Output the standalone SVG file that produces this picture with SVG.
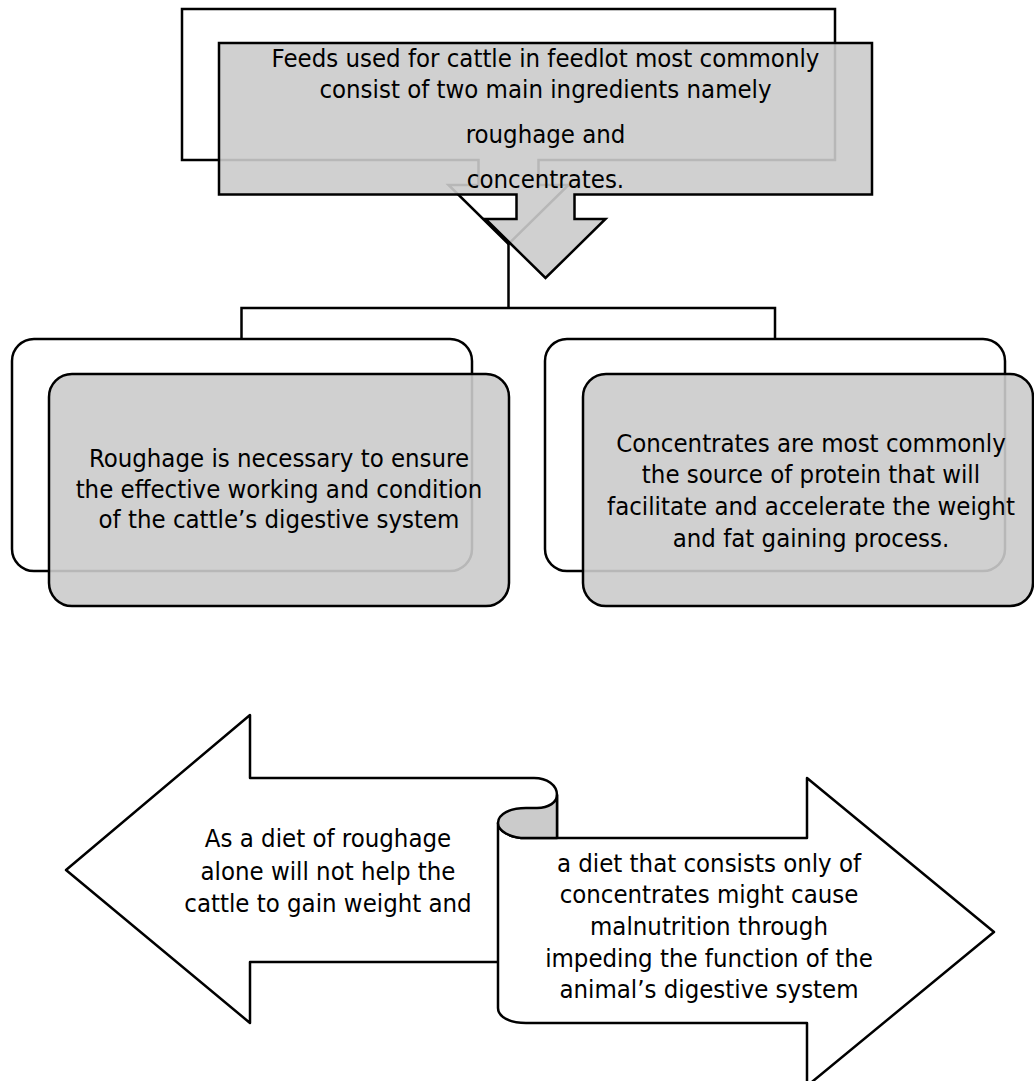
<svg xmlns="http://www.w3.org/2000/svg" width="1034" height="1081" viewBox="0 0 1034 1081">
  <style>
    .back { fill: #ffffff; stroke: #000000; stroke-width: 2.5; stroke-linejoin: miter; }
    .front { fill: #cbcbcb; fill-opacity: 0.9; stroke: #000000; stroke-width: 2.5; }
    .plain { fill: #ffffff; stroke: #000000; stroke-width: 2.5; stroke-linejoin: round; }
    .curl { fill: #cbcbcb; stroke: #000000; stroke-width: 2.5; stroke-linejoin: round; }
    .conn { fill: none; stroke: #000000; stroke-width: 2.5; }
    text { font-family: "DejaVu Sans Condensed", "DejaVu Sans", sans-serif; font-stretch: condensed; font-size: 25.5px; fill: #000000; text-anchor: middle; }
  </style>
  <rect width="1034" height="1081" fill="#ffffff"/>

  <!-- top statement: stacked down-arrow callouts -->
  <g id="node-feeds">
    <path class="back" d="M182,9 H835 V160 H538.5 V185 H568.5 L508.5,244 L448.5,185 H478.5 V160 H182 Z"/>
    <path class="front" d="M219,43 H872 V194.5 H574.5 V219 H605.5 L545.5,278 L485.5,219 H516.5 V194.5 H219 Z"/>
    <text x="545.5" y="67">Feeds used for cattle in feedlot most commonly</text>
    <text x="545.5" y="98">consist of two main ingredients namely</text>
    <text x="545.5" y="143">roughage and</text>
    <text x="545.5" y="188">concentrates.</text>
  </g>

  <!-- connectors -->
  <g id="connectors">
    <path class="conn" d="M508.5,244 V308 M241.5,339 V308 H775 V339"/>
  </g>

  <!-- roughage card -->
  <g id="node-roughage">
    <rect class="back" x="12" y="339" width="460" height="232" rx="22" ry="22"/>
    <rect class="front" x="49" y="374" width="460" height="232" rx="23" ry="23"/>
    <text x="279" y="467">Roughage is necessary to ensure</text>
    <text x="279" y="498">the effective working and condition</text>
    <text x="279" y="528">of the cattle’s digestive system</text>
  </g>

  <!-- concentrates card -->
  <g id="node-concentrates">
    <rect class="back" x="545" y="339" width="460" height="232" rx="22" ry="22"/>
    <rect class="front" x="583" y="374" width="450" height="232" rx="23" ry="23"/>
    <text x="811" y="452">Concentrates are most commonly</text>
    <text x="811" y="483">the source of protein that will</text>
    <text x="811" y="515">facilitate and accelerate the weight</text>
    <text x="811" y="547">and fat gaining process.</text>
  </g>

  <!-- left-pointing arrow -->
  <g id="node-roughage-alone">
    <path class="plain" d="M66,870 L250,715 V778 H534 C547,778 557,785 557,795 V962 H250 V1023 Z"/>
    <text x="328" y="847">As a diet of roughage</text>
    <text x="328" y="880">alone will not help the</text>
    <text x="328" y="912">cattle to gain weight and</text>
  </g>

  <!-- scroll with right-pointing arrow -->
  <g id="node-concentrates-only">
    <path class="plain" d="M498,823 C498,831 510,838 526,838 H807 V778 L994,932 L807,1086 V1023 H526 C510,1023 498,1017 498,1008 Z"/>
    <path class="curl" d="M498,823 C498,814 510,808 526,808 H537 C549,808 557,802 557,795 V838 H526 C510,838 498,831 498,823 Z"/>
    <text x="709" y="872">a diet that consists only of</text>
    <text x="709" y="903">concentrates might cause</text>
    <text x="709" y="935">malnutrition through</text>
    <text x="709" y="967">impeding the function of the</text>
    <text x="709" y="998">animal’s digestive system</text>
  </g>
</svg>
